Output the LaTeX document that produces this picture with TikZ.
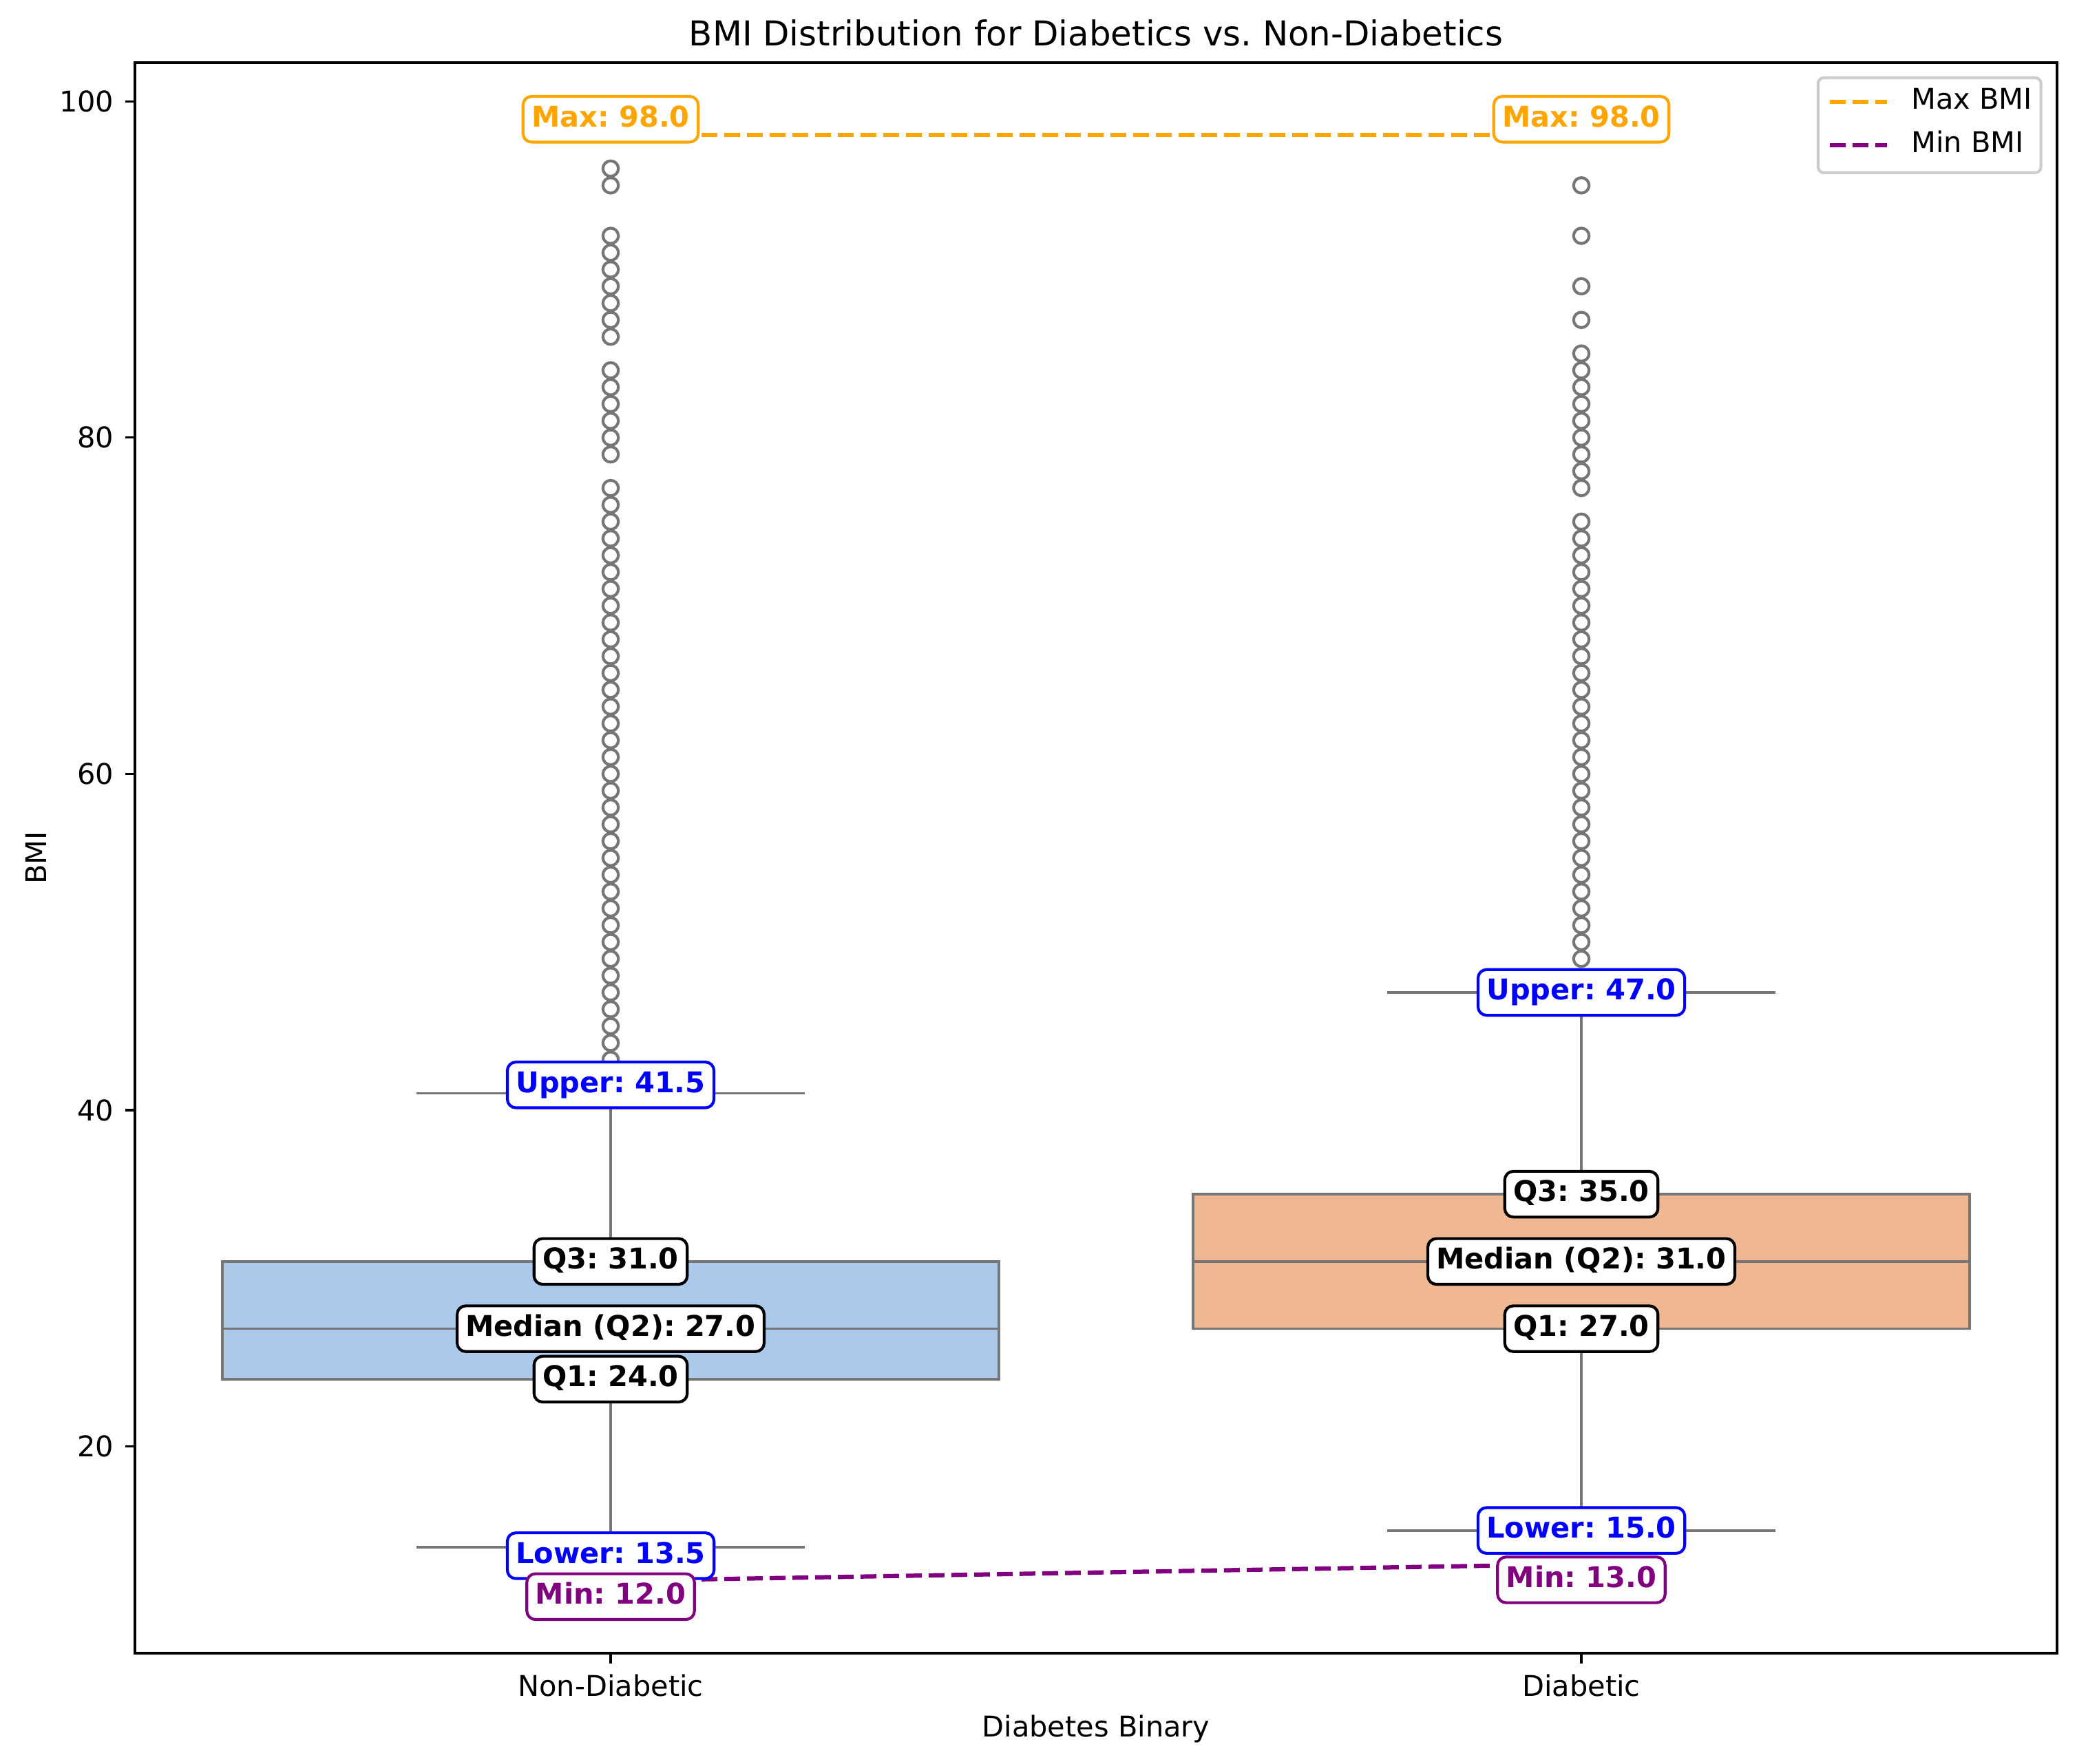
\documentclass[tikz,border=0pt]{standalone}
\usepackage{fontspec}
\setmainfont{DejaVu Sans}
\usepackage{tikz}
\usetikzlibrary{arrows}
\frenchspacing

\begin{document}
\begin{tikzpicture}[
    whisk/.style={draw=linegray, line width=0.9pt},
    flier/.style={draw=linegray, line width=1pt},
    lbl/.style={draw=#1, text=#1, fill=white, rounded corners=3pt, line width=1pt, inner sep=3pt, text height=7.6pt, text depth=2.4pt, font=\bfseries},
    refline/.style={draw=#1, line width=1.5pt, dash pattern=on 5.55pt off 2.4pt},
    lgtext/.style={anchor=west, inner sep=0pt, text height=7.6pt, text depth=2.4pt}
  ]
    \definecolor{boxblue}{HTML}{ABC9EA}
    \definecolor{boxorange}{HTML}{EFB792}
    \definecolor{linegray}{HTML}{767676}
    \definecolor{maxorange}{HTML}{FFA500}
    \definecolor{minpurple}{HTML}{800080}
    \definecolor{fenceblue}{HTML}{0000FF}
    \useasboundingbox (0cm,0cm) rectangle (25.544cm,21.692cm);
    \begin{scope}[x=11.938cm, y=0.20684cm, shift={(7.510cm,-0.238cm)}]
      \foreach \c/\qa/\med/\qc/\lo/\hi/\col in
      {
        0/24/27/31/14/41/boxblue,
        1/27/31/35/15/47/boxorange%
      }
      {
        \draw[whisk] (\c,\qa) -- (\c,\lo);  %unterer Whisker
        \draw[whisk] (\c,\qc) -- (\c,\hi);  %oberer Whisker
        \draw[whisk] (\c-0.2,\lo) -- (\c+0.2,\lo);
        \draw[whisk] (\c-0.2,\hi) -- (\c+0.2,\hi);
        \draw[whisk, fill=\col] (\c-0.4,\qa) rectangle (\c+0.4,\qc);  %Box
        \draw[whisk] (\c-0.4,\med) -- (\c+0.4,\med);  %Median
      }
      \foreach \v in {43,...,77,79,80,...,84,86,87,...,92,95,96}
      {
        \draw[flier] (0,\v) circle (2.7pt);
      }
      \foreach \v in {49,...,75,77,78,...,85,87,89,92,95}
      {
        \draw[flier] (1,\v) circle (2.7pt);
      }
      \draw[line width=0.8pt] (-0.49,7.7) rectangle (1.49,102.3);  %Rahmen
      \foreach \v in {20,40,...,100}
      {
        \draw[line width=0.8pt] (-0.49,\v) -- ++(-3.5pt,0) node[anchor=east, inner sep=0pt, xshift=-3.5pt] (yt\v) {\v};
      }
      \foreach \c/\name in {0/Non-Diabetic, 1/Diabetic}
      {
        \draw[line width=0.8pt] (\c,7.7) -- ++(0,-3.5pt) node[anchor=north, inner sep=0pt, yshift=-3.5pt] (xt\c) {\name};
      }
      \node[rotate=90] (ylab) at (-0.5922,55) {BMI};
      \node[anchor=base] (xlab) at (0.5,2.746) {Diabetes Binary};
      \node[anchor=base, font=\large, yshift=6pt] (title) at (0.5,102.3) {BMI Distribution for Diabetics vs. Non-Diabetics};
      \coordinate (max0) at (0,98);
      \coordinate (max1) at (1,98);
      \coordinate (min0) at (0,12);
      \coordinate (min1) at (1,13);
      \draw[refline=maxorange] (max0) -- (max1);
      \draw[refline=minpurple] (min0) -- (min1);
      \foreach \c/\qa/\med/\qc/\lo/\hi in
      {
        0/24.0/27.0/31.0/13.5/41.5,
        1/27.0/31.0/35.0/15.0/47.0%
      }
      {
        \node[lbl=black] (qa\c) at (\c,\qa) {Q1: \qa};
        \node[lbl=black] (med\c) at (\c,\med) {Median (Q2): \med};
        \node[lbl=black] (qc\c) at (\c,\qc) {Q3: \qc};
        \node[lbl=fenceblue] (lo\c) at (\c,\lo) {Lower: \lo};
        \node[lbl=fenceblue] (hi\c) at (\c,\hi) {Upper: \hi};
      }
      \node[lbl=maxorange, anchor=south, yshift=-3pt] (maxlbl0) at (max0) {Max: 98.0};
      \node[lbl=maxorange, anchor=south, yshift=-3pt] (maxlbl1) at (max1) {Max: 98.0};
      \node[lbl=minpurple, anchor=north, yshift=3pt] (minlbl0) at (min0) {Min: 12.0};
      \node[lbl=minpurple, anchor=north, yshift=3pt] (minlbl1) at (min1) {Min: 13.0};
    \end{scope}
    \draw[rounded corners=2pt, draw=black!20, fill=white, fill opacity=0.8, line width=1pt] (22.36,19.567) rectangle (25.10,20.735);  %Legende
    \draw[refline=maxorange] (22.50,20.438) -- (23.21,20.438);
    \node[lgtext] (lgmax) at (23.50,20.438) {Max BMI};
    \draw[refline=minpurple] (22.50,19.905) -- (23.21,19.905);
    \node[lgtext] (lgmin) at (23.50,19.905) {Min BMI};
\end{tikzpicture}
\end{document}
